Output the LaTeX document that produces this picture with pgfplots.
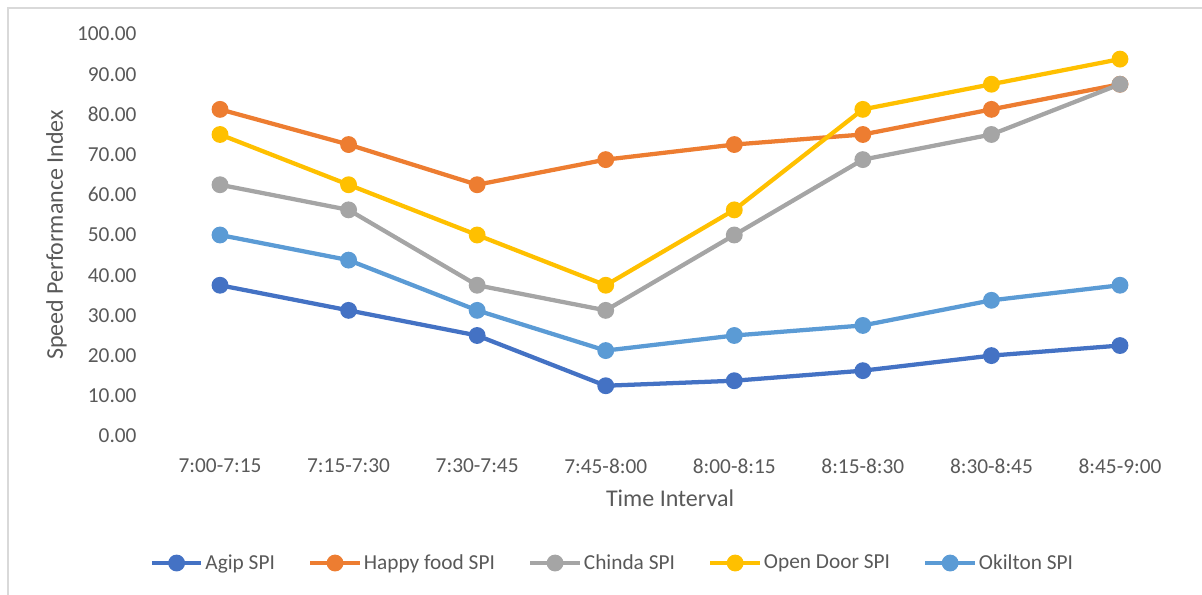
\documentclass[border=0pt]{standalone}
\usepackage{pgfplots}
\pgfplotsset{compat=1.18}
\usepackage{fontspec}
\setmainfont{Carlito}

\definecolor{txt}{HTML}{595959}
\definecolor{frame}{HTML}{D9D9D9}
\definecolor{cAgip}{HTML}{4472C4}
\definecolor{cHappy}{HTML}{ED7D31}
\definecolor{cChinda}{HTML}{A5A5A5}
\definecolor{cOpen}{HTML}{FFC000}
\definecolor{cOkil}{HTML}{5B9BD5}

\begin{document}
\begin{tikzpicture}
\path[use as bounding box] (0,0) rectangle (901.5pt,446.25pt);
% chart frame (top and left edges)
\draw[frame, line width=1pt] (6pt,0pt) -- (6pt,440.25pt) -- (901.5pt,440.25pt);
\begin{axis}[
  at={(116.8pt,119.25pt)}, anchor=south west,
  scale only axis,
  width=771.4pt, height=301.5pt,
  xmin=-0.5, xmax=7.5,
  ymin=0, ymax=100,
  xtick={0,...,7},
  xticklabels={7:00-7:15,7:15-7:30,7:30-7:45,7:45-8:00,8:00-8:15,8:15-8:30,8:30-8:45,8:45-9:00},
  ytick={0,10,...,100},
  axis line style={draw=none},
  major tick length=0pt,
  /pgf/number format/assume math mode=true,
  yticklabel={\pgfmathprintnumber[fixed,fixed zerofill,precision=2]{\tick}},
  ticklabel style={font=\fontsize{16}{19}\selectfont, text=txt},
  yticklabel style={anchor=east, inner sep=0pt, xshift=-14.2pt},
  xticklabel style={anchor=center, inner sep=0pt, yshift=-22.5pt},
  xlabel={Time Interval},
  ylabel={Speed Performance Index},
  label style={font=\fontsize{18}{21}\selectfont, text=txt},
  xlabel style={at={(axis description cs:0.5,-0.154)}, anchor=center},
  ylabel style={at={(axis description cs:-0.0964,0.5)}, anchor=center, rotate=0},
  every axis plot/.append style={line width=3.2pt, mark=*, mark size=4.7pt},
  legend columns=5,
  legend style={
    draw=none, fill=none,
    at={(axis description cs:0.444,-0.316)}, anchor=center,
    font=\fontsize{16}{19}\selectfont, text=txt,
    /tikz/every even column/.append style={column sep=23.5pt},
    nodes={inner sep=1.5pt},
  },
  legend image code/.code={
    \draw[mark repeat=2, mark phase=2, #1] plot coordinates {(0pt,0pt) (18.5pt,0pt) (37pt,0pt)};
  },
]
\addplot[color=cAgip, mark options={fill=cAgip, draw=none}] coordinates {
  (0,37.5) (1,31.25) (2,25) (3,12.5) (4,13.75) (5,16.25) (6,20) (7,22.5)};
\addlegendentry{Agip SPI}
\addplot[color=cHappy, mark options={fill=cHappy, draw=none}] coordinates {
  (0,81.25) (1,72.5) (2,62.5) (3,68.75) (4,72.5) (5,75) (6,81.25) (7,87.5)};
\addlegendentry{Happy food SPI}
\addplot[color=cChinda, mark options={fill=cChinda, draw=none}] coordinates {
  (0,62.5) (1,56.25) (2,37.5) (3,31.25) (4,50) (5,68.75) (6,75) (7,87.5)};
\addlegendentry{Chinda SPI}
\addplot[color=cOpen, mark options={fill=cOpen, draw=none}] coordinates {
  (0,75) (1,62.5) (2,50) (3,37.5) (4,56.25) (5,81.25) (6,87.5) (7,93.75)};
\addlegendentry{Open Door SPI}
\addplot[color=cOkil, mark options={fill=cOkil, draw=none}] coordinates {
  (0,50) (1,43.75) (2,31.25) (3,21.25) (4,25) (5,27.5) (6,33.75) (7,37.5)};
\addlegendentry{Okilton SPI}
\end{axis}
\end{tikzpicture}
\end{document}
